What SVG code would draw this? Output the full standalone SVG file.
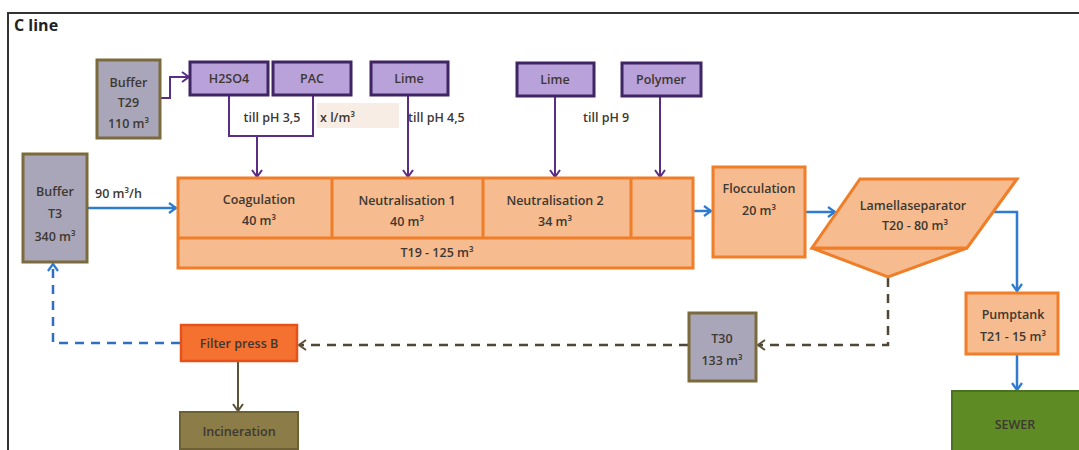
<svg xmlns="http://www.w3.org/2000/svg" width="1079" height="450" viewBox="0 0 1079 450">
<style>
text{font-family:"Open Sans","Liberation Sans",sans-serif;font-size:12.5px;font-weight:600;fill:#3d3832;text-anchor:middle}
.title{font-size:16px;font-weight:bold;text-anchor:start;fill:#222}
.lbl{text-anchor:start}
.gray{fill:#aaa6b9;stroke:#7b6b3c;stroke-width:3}
.purple{fill:#b9a1d9;stroke:#3f2563;stroke-width:3}
.orange{fill:#f6bb8e;stroke:#f07d28;stroke-width:3}
.pl{fill:none;stroke:#5a2d86;stroke-width:2}
.bl{fill:none;stroke:#2e7bcf;stroke-width:2.5}
.bld{fill:none;stroke:#2e6fbf;stroke-width:2.5;stroke-dasharray:9 7}
.br{fill:none;stroke:#4f4637;stroke-width:2.5;stroke-dasharray:9 7}
.brs{fill:none;stroke:#5c5238;stroke-width:2}
</style>
<defs>
<marker id="ap" markerWidth="12" markerHeight="12" refX="9" refY="6" orient="auto" markerUnits="userSpaceOnUse"><path d="M2,1 L9,6 L2,11" fill="none" stroke="#5a2d86" stroke-width="2"/></marker>
<marker id="ab" markerWidth="12" markerHeight="12" refX="9" refY="6" orient="auto" markerUnits="userSpaceOnUse"><path d="M2,1 L9,6 L2,11" fill="none" stroke="#2e7bcf" stroke-width="2.2"/></marker>
<marker id="abr" markerWidth="12" markerHeight="12" refX="9" refY="6" orient="auto" markerUnits="userSpaceOnUse"><path d="M2,1 L9,6 L2,11" fill="none" stroke="#5c5238" stroke-width="2"/></marker>
</defs>
<rect width="1079" height="450" fill="#fff"/>
<path d="M8,450 V13 H1079" fill="none" stroke="#333" stroke-width="2"/>
<text class="title" x="14" y="31">C line</text>

<g id="connectors">
<path class="pl" d="M160,98 H170 V77 H189" marker-end="url(#ap)"/>
<path class="pl" d="M229,95 V136 H313 V95"/>
<path class="pl" d="M257,136 V177" marker-end="url(#ap)"/>
<path class="pl" d="M408,95 V177" marker-end="url(#ap)"/>
<path class="pl" d="M555,95 V177" marker-end="url(#ap)"/>
<path class="pl" d="M660,96 V177" marker-end="url(#ap)"/>
<path class="bl" d="M87,208 H176" marker-end="url(#ab)"/>
<path class="bl" d="M693,211 H711" marker-end="url(#ab)"/>
<path class="bl" d="M805,212 H835" marker-end="url(#ab)"/>
<path class="bl" d="M990,212 H1017 V291" marker-end="url(#ab)"/>
<path class="bl" d="M1017,354 V390" marker-end="url(#ab)"/>
<path class="br" d="M888,278 V345 H758" marker-end="url(#abr)"/>
<path class="br" d="M688,345 H299" marker-end="url(#abr)"/>
<path class="bld" d="M180,343 H53 V264" marker-end="url(#ab)"/>
<path class="brs" d="M238,361 V411" marker-end="url(#abr)"/>
</g>

<g id="buffer-t29">
<rect class="gray" x="97" y="60" width="63" height="78"/>
<text x="128.5" y="87">Buffer</text>
<text x="128.5" y="107">T29</text>
<text x="128.5" y="128">110 m³</text>
</g>
<g id="h2so4">
<rect class="purple" x="190" y="62" width="78" height="33"/>
<text x="229" y="83">H2SO4</text>
</g>
<g id="pac">
<rect class="purple" x="273" y="62" width="78" height="33"/>
<text x="312" y="83">PAC</text>
</g>
<g id="lime1">
<rect class="purple" x="371" y="62" width="77" height="33"/>
<text x="409" y="83">Lime</text>
</g>
<g id="lime2">
<rect class="purple" x="517" y="63" width="77" height="33"/>
<text x="555" y="84">Lime</text>
</g>
<g id="polymer">
<rect class="purple" x="622" y="63" width="79" height="33"/>
<text x="661" y="84">Polymer</text>
</g>

<g id="labels">
<text x="272" y="122">till pH 3,5</text>
<rect x="317" y="103" width="82" height="25" fill="#f8ede5"/>
<text class="lbl" x="320" y="122">x l/m³</text>
<text class="lbl" x="408" y="122">till pH 4,5</text>
<text class="lbl" x="583" y="122">till pH 9</text>
<text class="lbl" x="95" y="198">90 m³/h</text>
</g>

<g id="buffer-t3">
<rect class="gray" x="23" y="154" width="64" height="108"/>
<text x="55" y="196">Buffer</text>
<text x="55" y="218">T3</text>
<text x="55" y="241">340 m³</text>
</g>

<g id="t19">
<rect class="orange" x="178" y="178" width="515" height="90"/>
<path d="M178,238 H693 M332,178 V238 M483,178 V238 M631,178 V238" fill="none" stroke="#f07d28" stroke-width="3"/>
<text x="259" y="204">Coagulation</text>
<text x="259" y="225">40 m³</text>
<text x="407" y="205">Neutralisation 1</text>
<text x="407" y="226">40 m³</text>
<text x="555" y="205">Neutralisation 2</text>
<text x="555" y="226">34 m³</text>
<text x="437" y="257">T19 - 125 m³</text>
</g>

<g id="flocculation">
<rect class="orange" x="713" y="167" width="92" height="90"/>
<text x="759" y="193">Flocculation</text>
<text x="759" y="215">20 m³</text>
</g>

<g id="lamellaseparator">
<path class="orange" d="M812,248 L888,277 L967,248 Z"/>
<path class="orange" d="M860,179 H1017 L967,248 H812 Z"/>
<text x="913" y="210">Lamellaseparator</text>
<text x="915" y="230">T20 - 80 m³</text>
</g>

<g id="pumptank">
<rect class="orange" x="966" y="293" width="92" height="61"/>
<text x="1013" y="319">Pumptank</text>
<text x="1013" y="341">T21 - 15 m³</text>
</g>

<g id="sewer">
<rect x="952" y="391" width="130" height="62" fill="#5f8b25" stroke="#4b7220" stroke-width="2"/>
<text x="1015" y="429">SEWER</text>
</g>

<g id="t30">
<rect class="gray" x="689" y="313" width="67" height="68"/>
<text x="722" y="343">T30</text>
<text x="722" y="365">133 m³</text>
</g>

<g id="filterpress">
<rect x="181" y="325" width="116" height="36" fill="#f4712f" stroke="#e4521c" stroke-width="2.5"/>
<text x="239" y="348">Filter press B</text>
</g>

<g id="incineration">
<rect x="180" y="412" width="118" height="37" fill="#8c7c48" stroke="#6d6133" stroke-width="2"/>
<text x="239" y="436">Incineration</text>
</g>
</svg>
